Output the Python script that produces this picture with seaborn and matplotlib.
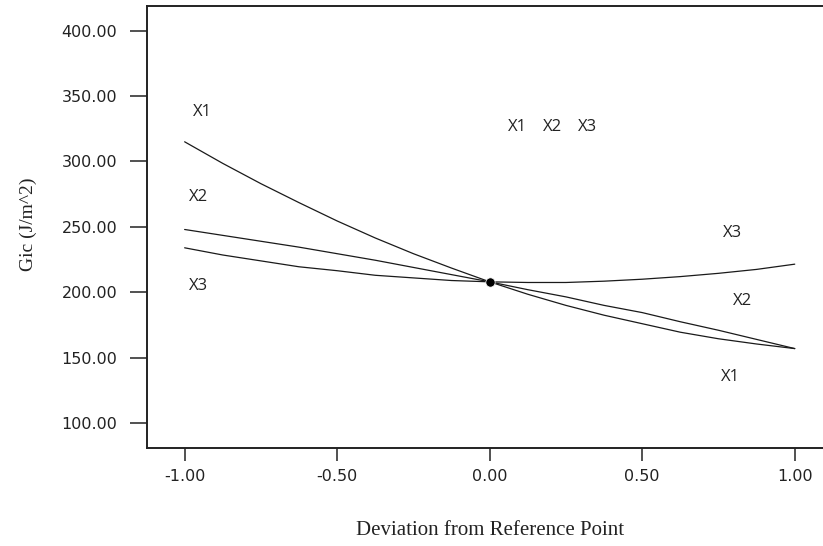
"""
Perturbation plot: Gic against deviation from the reference point.
"""
import matplotlib
matplotlib.use("Agg")
import matplotlib.pyplot as plt
import pandas as pd
import seaborn as sns

# deviation values
deviation = [-1.0, -0.875, -0.75, -0.625, -0.5, -0.375, -0.25, -0.125, 0.0,
             0.125, 0.25, 0.375, 0.5, 0.625, 0.75, 0.875, 1.0]

# Gic (J/m^2) for each factor
x1_values = [315.0, 298.5, 283.0, 268.5, 254.5, 241.5, 229.5, 218.5, 208.0,
             198.5, 190.0, 182.5, 176.0, 169.5, 164.5, 160.5, 157.0]
x2_values = [248.0, 243.5, 239.0, 234.5, 229.5, 224.5, 219.0, 213.5, 208.0,
             202.0, 196.5, 190.0, 184.5, 177.5, 171.0, 164.0, 157.0]
x3_values = [234.0, 228.5, 224.0, 219.5, 216.5, 213.0, 211.0, 209.0, 208.0,
             207.5, 207.5, 208.5, 210.0, 212.0, 214.5, 217.5, 221.5]

# reference point
ref_x = [0.0]
ref_y = [208.0]

# curve labels as they sit on the chart (text, x, y)
curve_labels = [
    ("X1", -0.94, 338), ("X2", -0.955, 273), ("X3", -0.955, 205),
    ("X1", 0.09, 326), ("X2", 0.205, 326), ("X3", 0.32, 326),
    ("X3", 0.796, 245), ("X2", 0.83, 193), ("X1", 0.79, 135),
]

y_ticks = [100, 150, 200, 250, 300, 350, 400]
x_ticks = [-1.0, -0.5, 0.0, 0.5, 1.0]

sns.set_theme(style="white")
plt.rcParams["font.family"] = ["DejaVu Sans"]

df = pd.DataFrame({
    "deviation": deviation * 3,
    "gic": x1_values + x2_values + x3_values,
    "factor": ["X1"] * len(deviation) + ["X2"] * len(deviation) + ["X3"] * len(deviation),
})

fig = plt.figure(figsize=(8.23, 5.46), dpi=100)
# axes runs a bit past the right edge, like the cropped original
ax = fig.add_axes([146.5 / 823, 0.18, 0.834, 0.809])

sns.lineplot(data=df, x="deviation", y="gic", hue="factor",
             palette=["#1a1a1a", "#1a1a1a", "#1a1a1a"], linewidth=0.9,
             legend=False, ax=ax)
sns.scatterplot(x=ref_x, y=ref_y, color="black", s=45, zorder=5, ax=ax)

for text, tx, ty in curve_labels:
    ax.text(tx, ty, text, fontsize=12, family=["Open Sans", "DejaVu Sans"],
            ha="center", va="center", color="#222222")

ax.set_xlim(-1.125, 1.125)
ax.set_ylim(81.25, 418.75)
ax.set_xticks(x_ticks)
ax.set_yticks(y_ticks)
ax.set_xticklabels([f"{v:.2f}" for v in x_ticks])
ax.set_yticklabels([f"{v:.2f}" for v in y_ticks])

ax.tick_params(axis="y", direction="out", length=12, width=1.1, pad=9,
               labelsize=11.5, colors="#222222", left=True)
ax.tick_params(axis="x", direction="out", length=9, width=1.1, pad=6,
               labelsize=11.5, colors="#222222", bottom=True)

for side in ["left", "bottom", "top"]:
    ax.spines[side].set_color("#222222")
    ax.spines[side].set_linewidth(1.4)
ax.spines["right"].set_visible(False)

ax.set_xlabel("Deviation from Reference Point", fontsize=15,
              family=["Liberation Serif"], color="#222222", va="top")
ax.set_ylabel("Gic (J/m^2)", fontsize=14, family=["Liberation Serif"],
              color="#222222")
ax.xaxis.set_label_coords(0.5, -0.165)
ax.yaxis.set_label_coords(-0.16, 0.507)

fig.savefig("out.png", dpi=100)
